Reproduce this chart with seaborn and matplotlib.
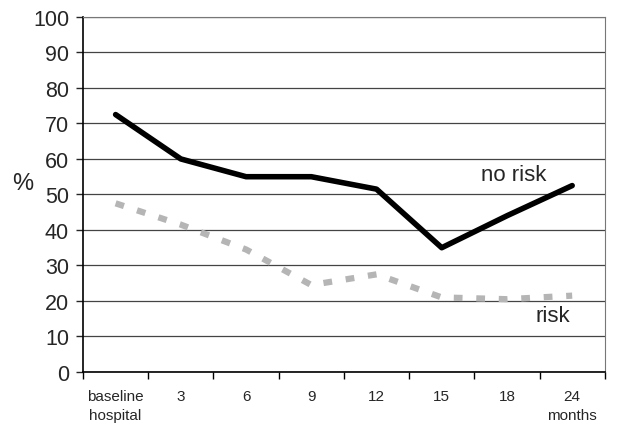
import numpy as np
import pandas as pd
import matplotlib
matplotlib.use("Agg")
import matplotlib.pyplot as plt
import seaborn as sns

# data
periods = ["baseline\nhospital", "3", "6", "9", "12", "15", "18", "24\nmonths"]
no_risk = [72.5, 60, 55, 55, 51.5, 35, 44, 52.5]
risk = [47.5, 41.5, 34.5, 24.5, 27.5, 21, 20.5, 21.5]

sns.set_style("white")
plt.rcParams['font.family'] = ['Liberation Sans', 'DejaVu Sans']

df = pd.DataFrame({
    'pos': list(range(len(periods))) * 2,
    'value': no_risk + risk,
    'group': ['no risk'] * len(periods) + ['risk'] * len(periods),
})

fig = plt.figure(figsize=(6.4, 4.27), dpi=100)
ax = fig.add_axes([0.1297, 0.1265, 0.8153, 0.8315])

sns.lineplot(data=df[df['group'] == 'no risk'], x='pos', y='value',
             color='black', linewidth=4, ax=ax, legend=False)
sns.lineplot(data=df[df['group'] == 'risk'], x='pos', y='value',
             color='#b5b5b5', linewidth=4.5, ax=ax, legend=False,
             linestyle=(0, (1.4, 2.2)))

ax.set_xlim(-0.5, len(periods) - 0.5)
ax.set_ylim(0, 100)
ax.set_yticks(np.arange(0, 101, 10))
ax.yaxis.grid(True, color='#444444', linewidth=0.9)
ax.set_axisbelow(True)

# boundary ticks (major) and centred labels (minor)
ax.set_xticks(np.arange(-0.5, len(periods), 1.0))
ax.set_xticklabels([])
ax.set_xticks(np.arange(len(periods)), minor=True)
ax.set_xticklabels(periods, minor=True, fontsize=11, linespacing=1.5)
ax.tick_params(axis='x', which='major', length=5, width=1, color='black', direction='out', bottom=True)
ax.tick_params(axis='x', which='minor', length=0, pad=12)
ax.tick_params(axis='y', labelsize=15.5, length=5, width=1, left=True, direction='out', pad=5)

ax.set_xlabel('')
ax.set_ylabel('%', fontsize=17, rotation=0)
ax.yaxis.set_label_coords(-0.115, 0.5)

for side in ['top', 'right']:
    ax.spines[side].set_color('#777777')
    ax.spines[side].set_linewidth(0.8)
for side in ['left', 'bottom']:
    ax.spines[side].set_color('black')
    ax.spines[side].set_linewidth(1.2)

ax.text(6.1, 55.5, 'no risk', fontsize=16, ha='center', va='center')
ax.text(6.7, 16, 'risk', fontsize=16, ha='center', va='center')

plt.savefig('out.png', dpi=100)
